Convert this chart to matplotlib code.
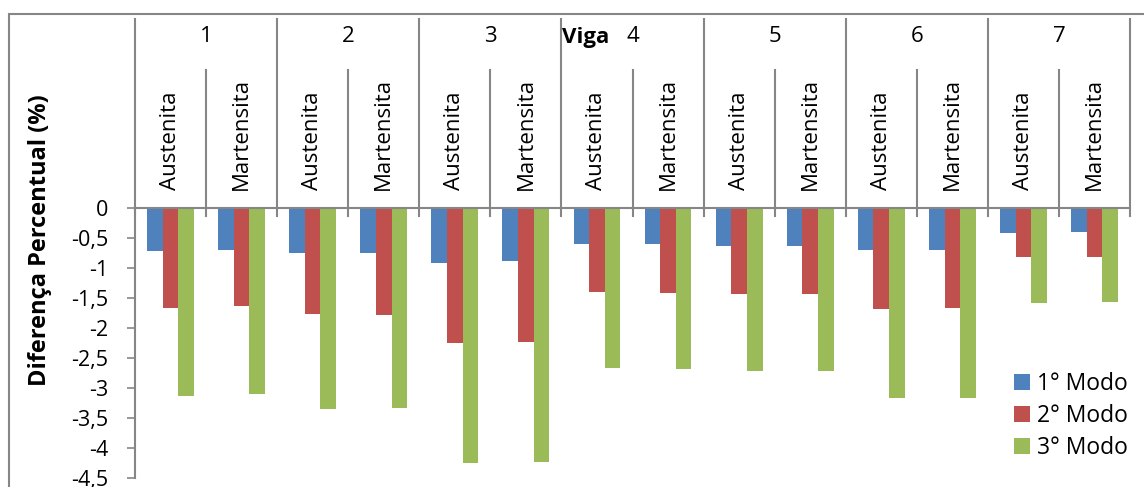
import matplotlib
matplotlib.use("Agg")
import matplotlib.pyplot as plt
from matplotlib.lines import Line2D
from matplotlib.patches import Rectangle
from matplotlib.transforms import blended_transform_factory
import numpy as np

plt.rcParams["font.family"] = ["Open Sans", "DejaVu Sans"]

# Percent difference per beam (Viga) and phase, one list per vibration mode
vigas = ["1", "2", "3", "4", "5", "6", "7"]
fases = ["Austenita", "Martensita"]
modo1 = [-0.71, -0.70, -0.755, -0.755, -0.91, -0.89, -0.605, -0.605,
         -0.633, -0.633, -0.70, -0.70, -0.41, -0.40]
modo2 = [-1.66, -1.63, -1.77, -1.78, -2.255, -2.24, -1.405, -1.417,
         -1.44, -1.428, -1.678, -1.66, -0.817, -0.81]
modo3 = [-3.14, -3.105, -3.345, -3.34, -4.25, -4.23, -2.67, -2.69,
         -2.717, -2.717, -3.17, -3.16, -1.578, -1.56]
series = ["1° Modo", "2° Modo", "3° Modo"]
yticks = [0, -0.5, -1, -1.5, -2, -2.5, -3, -3.5, -4, -4.5]

COLORS = ["#4F81BD", "#C0504D", "#9BBB59"]
AXIS = "#868686"
FS_TICK = 15.5
FS_CAT = 16
FS_LEG = 16.5

W, H = 1144, 487
fig = plt.figure(figsize=(W / 100, H / 100), dpi=100, facecolor="white")

# plot area in pixels: x 135..1130, y 208 (zero) .. 478 (-4.5)
x0, x1, ytop, ybot = 135, 1130, 208, 478
ax = fig.add_axes([x0 / W, (H - ybot) / H, (x1 - x0) / W, (ybot - ytop) / H])

n = len(modo1)
centers = np.arange(n) + 0.5
bw = 0.22
for k, vals in enumerate([modo1, modo2, modo3]):
    ax.bar(centers + (k - 1) * bw, vals, width=bw, color=COLORS[k],
           label=series[k], zorder=2)

ax.set_xlim(0, n)
ax.set_ylim(-4.5, 0)
ax.set_yticks(yticks)
ax.set_yticklabels([("%g" % t).replace(".", ",") for t in yticks])
ax.set_xticks([])
ax.tick_params(axis="y", direction="out", length=6, width=1.2, color=AXIS,
               pad=13, labelsize=FS_TICK, labelcolor="black")
for s in ("bottom", "right"):
    ax.spines[s].set_visible(False)
for s in ("left", "top"):
    ax.spines[s].set_color(AXIS)
    ax.spines[s].set_linewidth(1.5)
ax.spines["top"].set_zorder(3)

# two-level category header above the zero line
tr = blended_transform_factory(ax.transData, ax.transAxes)
def frac(ypx):
    return (ybot - ypx) / (ybot - ytop)

for i in range(0, n + 1):
    top = 19 if i % 2 == 0 else 70
    ax.add_line(Line2D([i, i], [frac(216), frac(top)], transform=tr,
                       color=AXIS, lw=1.5, clip_on=False))

for g, v in enumerate(vigas):
    ax.text(2 * g + 1, frac(37), v, transform=tr, ha="center", va="center",
            fontsize=FS_CAT, clip_on=False)
    for j, f in enumerate(fases):
        ax.text(2 * g + j + 0.5, frac(190), f, transform=tr, rotation=90,
                ha="center", va="bottom", fontsize=FS_CAT, clip_on=False)

ax.text(6.67, frac(37), "Viga", transform=tr, ha="right", va="center",
        fontsize=FS_CAT, fontweight="bold", clip_on=False)

fig.text(40 / W, 1 - 240 / H, "Diferença Percentual (%)", rotation=90,
         ha="center", va="center", fontsize=17, fontweight="bold")

ax.legend(loc="upper left", bbox_to_anchor=(1014 / W, 1 - 372 / H),
          bbox_transform=fig.transFigure, frameon=False, fontsize=FS_LEG,
          handlelength=0.7, handleheight=0.7, handletextpad=0.3,
          labelspacing=0.35, borderpad=0, borderaxespad=0)

# chart frame
fig.add_artist(Rectangle((9 / W, -0.2), 1.2, 1.2 - 14 / H, transform=fig.transFigure,
                         fill=False, edgecolor=AXIS, lw=1.5))

fig.savefig("out.png", dpi=100, facecolor="white")
